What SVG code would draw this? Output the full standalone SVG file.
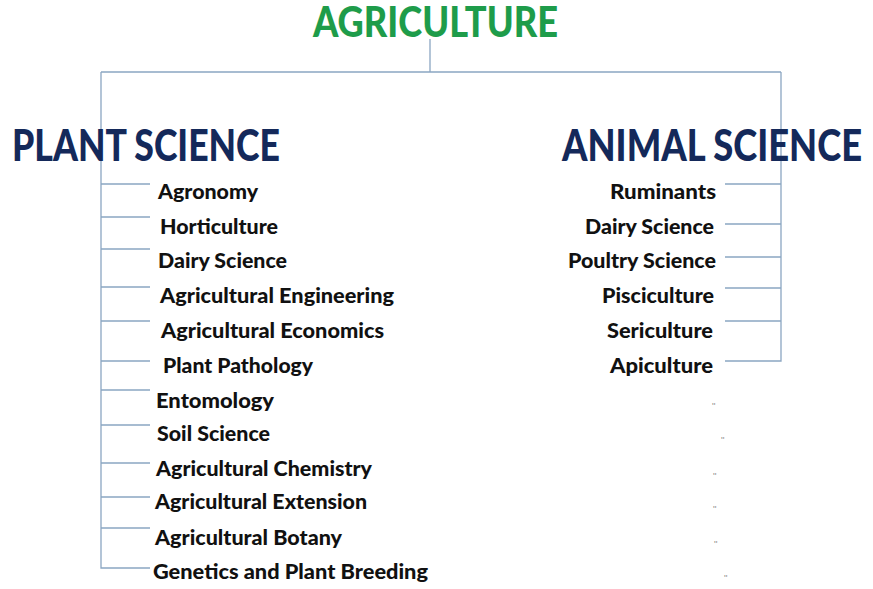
<svg xmlns="http://www.w3.org/2000/svg" width="873" height="589" viewBox="0 0 873 589">
<style>
.ln{stroke:#8ba6c2;stroke-width:1.3;fill:none}
.t{font-family:Lato,"Open Sans","Liberation Sans",sans-serif;font-weight:900}
.title{font-size:42px;fill:#1e9c4a}
.hd{font-size:43px;fill:#14295a}
.it{font-size:20px;fill:#111}
.mk{font-family:"Liberation Sans",sans-serif;font-size:9px;fill:#8a8a8a}
</style>
<rect width="873" height="589" fill="#ffffff"/>
<g id="connectors">
<path class="ln" d="M430 39V72M101 72H781M101 72V568H150M781 72V361H725"/>
<path class="ln" d="M101 184H150M101 217H150M101 249H150M101 287H150M101 321H150M101 361H150M101 390H150M101 425H150M101 463H150M101 497H150M101 528H150"/>
<path class="ln" d="M725 184H781M725 224H781M725 257H781M725 288H781M725 321H781"/>
</g>
<g id="agriculture"><text class="t title" x="313" y="37" textLength="245" lengthAdjust="spacingAndGlyphs">AGRICULTURE</text></g>
<g id="plant-science"><text class="t hd" x="12" y="161" textLength="268" lengthAdjust="spacingAndGlyphs">PLANT SCIENCE</text></g>
<g id="animal-science"><text class="t hd" x="562" y="161" textLength="300" lengthAdjust="spacingAndGlyphs">ANIMAL SCIENCE</text></g>
<g id="agronomy"><text class="t it" x="158" y="199" textLength="100" lengthAdjust="spacingAndGlyphs">Agronomy</text></g>
<g id="horticulture"><text class="t it" x="160" y="234" textLength="118" lengthAdjust="spacingAndGlyphs">Horticulture</text></g>
<g id="dairy-science-p"><text class="t it" x="158" y="268" textLength="129" lengthAdjust="spacingAndGlyphs">Dairy Science</text></g>
<g id="agri-engineering"><text class="t it" x="160" y="303" textLength="234" lengthAdjust="spacingAndGlyphs">Agricultural Engineering</text></g>
<g id="agri-economics"><text class="t it" x="161" y="338" textLength="223" lengthAdjust="spacingAndGlyphs">Agricultural Economics</text></g>
<g id="plant-pathology"><text class="t it" x="163" y="373" textLength="150" lengthAdjust="spacingAndGlyphs">Plant Pathology</text></g>
<g id="entomology"><text class="t it" x="156" y="408" textLength="118" lengthAdjust="spacingAndGlyphs">Entomology</text></g>
<g id="soil-science"><text class="t it" x="157" y="441" textLength="113" lengthAdjust="spacingAndGlyphs">Soil Science</text></g>
<g id="agri-chemistry"><text class="t it" x="156" y="476" textLength="216" lengthAdjust="spacingAndGlyphs">Agricultural Chemistry</text></g>
<g id="agri-extension"><text class="t it" x="155" y="509" textLength="212" lengthAdjust="spacingAndGlyphs">Agricultural Extension</text></g>
<g id="agri-botany"><text class="t it" x="155" y="545" textLength="187" lengthAdjust="spacingAndGlyphs">Agricultural Botany</text></g>
<g id="genetics"><text class="t it" x="153" y="579" textLength="275" lengthAdjust="spacingAndGlyphs">Genetics and Plant Breeding</text></g>
<g id="ruminants"><text class="t it" x="610" y="199" textLength="106" lengthAdjust="spacingAndGlyphs">Ruminants</text></g>
<g id="dairy-science-a"><text class="t it" x="585" y="234" textLength="129" lengthAdjust="spacingAndGlyphs">Dairy Science</text></g>
<g id="poultry-science"><text class="t it" x="568" y="268" textLength="148" lengthAdjust="spacingAndGlyphs">Poultry Science</text></g>
<g id="pisciculture"><text class="t it" x="602" y="303" textLength="112" lengthAdjust="spacingAndGlyphs">Pisciculture</text></g>
<g id="sericulture"><text class="t it" x="607" y="338" textLength="106" lengthAdjust="spacingAndGlyphs">Sericulture</text></g>
<g id="apiculture"><text class="t it" x="610" y="373" textLength="103" lengthAdjust="spacingAndGlyphs">Apiculture</text></g>
<g id="marks">
<text class="mk" x="712" y="409">''</text>
<text class="mk" x="721" y="443">''</text>
<text class="mk" x="713" y="479">''</text>
<text class="mk" x="713" y="512">''</text>
<text class="mk" x="714" y="547">''</text>
<text class="mk" x="724" y="581">''</text>
</g>
</svg>
